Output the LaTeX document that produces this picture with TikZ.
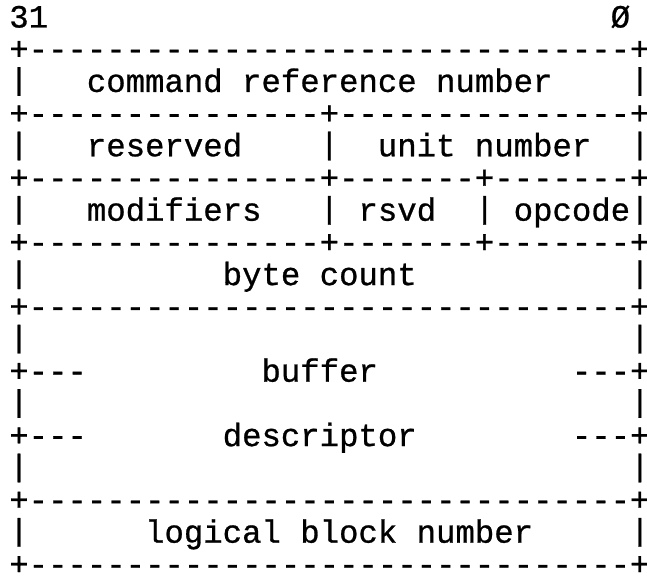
\documentclass[tikz,border=0pt]{standalone}
\usepackage{fontspec}
\usepackage{graphicx}
\setmonofont{Liberation Mono}[UprightFeatures={FakeBold=0.8}]
\ExplSyntaxOn
\cs_new:Npn \Rep #1#2 { \prg_replicate:nn {#1} {#2} }
\ExplSyntaxOff
\newcommand\Sp[1]{\Rep{#1}{~}}
\newcommand\Da[1]{\Rep{#1}{-\kern0pt}}
\newsavebox\barbox
\newcommand\Bar{\sbox\barbox{|}\raisebox{\dimexpr 0.32em-(\ht\barbox-\dp\barbox)*19/40\relax}{\scalebox{1}[0.95]{|}}}
\newcommand\rowy[1]{{575-27.5-32.2*#1}}
\tikzset{asciirow/.style={anchor=base west, inner sep=0pt, outer sep=0pt,
  text height=21pt, text depth=7pt,
  text=black, font=\ttfamily\fontsize{32.33pt}{32.2pt}\selectfont}}
\begin{document}
\begin{tikzpicture}[x=1pt,y=1pt]
\useasboundingbox[fill=white] (0,0) rectangle (647,575);
\node[asciirow] (r0)  at (9.3,\rowy{0})  {31\Sp{29}Ø};
\node[asciirow] (r1)  at (9.3,\rowy{1})  {+\Da{31}+};
\node[asciirow] (r2)  at (9.3,\rowy{2})  {\Bar\Sp{3}command reference number\Sp{4}\Bar};
\node[asciirow] (r3)  at (9.3,\rowy{3})  {+\Da{15}+\Da{15}+};
\node[asciirow] (r4)  at (9.3,\rowy{4})  {\Bar\Sp{3}reserved\Sp{4}\Bar\Sp{2}unit number\Sp{2}\Bar};
\node[asciirow] (r5)  at (9.3,\rowy{5})  {+\Da{15}+\Da{7}+\Da{7}+};
\node[asciirow] (r6)  at (9.3,\rowy{6})  {\Bar\Sp{3}modifiers\Sp{3}\Bar\Sp{1}rsvd\Sp{2}\Bar\Sp{1}opcode\Bar};
\node[asciirow] (r7)  at (9.3,\rowy{7})  {+\Da{15}+\Da{7}+\Da{7}+};
\node[asciirow] (r8)  at (9.3,\rowy{8})  {\Bar\Sp{10}byte count\Sp{11}\Bar};
\node[asciirow] (r9)  at (9.3,\rowy{9})  {+\Da{31}+};
\node[asciirow] (r10) at (9.3,\rowy{10}) {\Bar\Sp{31}\Bar};
\node[asciirow] (r11) at (9.3,\rowy{11}) {+\Da{3}\Sp{9}buffer\Sp{10}\Da{3}+};
\node[asciirow] (r12) at (9.3,\rowy{12}) {\Bar\Sp{31}\Bar};
\node[asciirow] (r13) at (9.3,\rowy{13}) {+\Da{3}\Sp{7}descriptor\Sp{8}\Da{3}+};
\node[asciirow] (r14) at (9.3,\rowy{14}) {\Bar\Sp{31}\Bar};
\node[asciirow] (r15) at (9.3,\rowy{15}) {+\Da{31}+};
\node[asciirow] (r16) at (9.3,\rowy{16}) {\Bar\Sp{6}logical block number\Sp{5}\Bar};
\node[asciirow] (r17) at (9.3,\rowy{17}) {+\Da{31}+};
\end{tikzpicture}
\end{document}
